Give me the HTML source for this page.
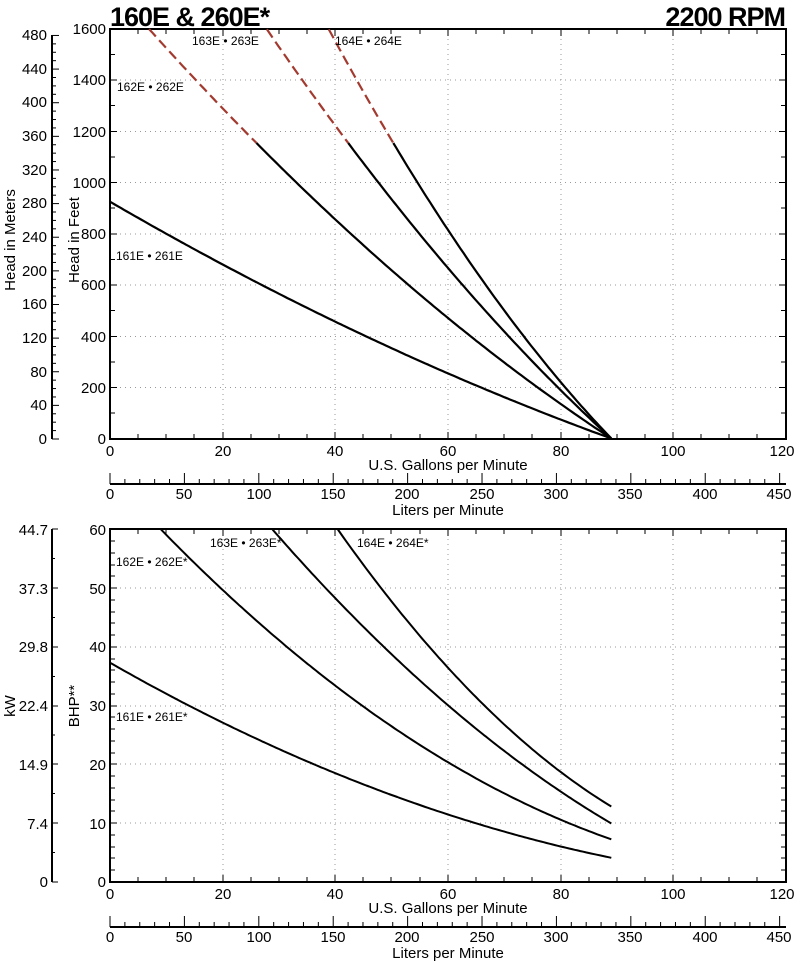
<!DOCTYPE html>
<html><head><meta charset="utf-8"><style>
html,body{margin:0;padding:0;background:#fff}
svg{display:block;font-family:"Liberation Sans",Arial,sans-serif}
</style></head><body>
<svg width="800" height="963" viewBox="0 0 800 963" xmlns="http://www.w3.org/2000/svg">
<text x="110" y="26" font-size="27" font-weight="bold" letter-spacing="-1">160E &amp; 260E*</text>
<text x="785" y="26" font-size="27" font-weight="bold" text-anchor="end" letter-spacing="-1">2200 RPM</text>

<g stroke="#999" stroke-width="1" stroke-dasharray="1,4">
<line x1="223" y1="29" x2="223" y2="439"/><line x1="335" y1="29" x2="335" y2="439"/><line x1="448" y1="29" x2="448" y2="439"/><line x1="561" y1="29" x2="561" y2="439"/><line x1="673" y1="29" x2="673" y2="439"/>
<line x1="110" y1="80" x2="786" y2="80"/><line x1="110" y1="131.5" x2="786" y2="131.5"/><line x1="110" y1="182.5" x2="786" y2="182.5"/><line x1="110" y1="234" x2="786" y2="234"/><line x1="110" y1="285" x2="786" y2="285"/><line x1="110" y1="336.5" x2="786" y2="336.5"/><line x1="110" y1="387.5" x2="786" y2="387.5"/>
</g>
<rect x="110" y="29" width="676" height="410" fill="none" stroke="#000" stroke-width="2"/>
<g stroke="#000" stroke-width="1">
<path d="M138 439v-5M166 439v-5M194 439v-5M251 439v-5M279 439v-5M307 439v-5M363 439v-5M391 439v-5M420 439v-5M476 439v-5M504 439v-5M532 439v-5M589 439v-5M617 439v-5M645 439v-5M701 439v-5M729 439v-5M757 439v-5M223 439v-7M335 439v-7M448 439v-7M561 439v-7M673 439v-7"/>
<path d="M138 29v5M166 29v5M194 29v5M251 29v5M279 29v5M307 29v5M363 29v5M391 29v5M420 29v5M476 29v5M504 29v5M532 29v5M589 29v5M617 29v5M645 29v5M701 29v5M729 29v5M757 29v5M223 29v7M335 29v7M448 29v7M561 29v7M673 29v7"/>
<path d="M110 54.5h5M110 105.5h5M110 157h5M110 208h5M110 259.5h5M110 310.5h5M110 362h5M110 413h5M110 80h7M110 131.5h7M110 182.5h7M110 234h7M110 285h7M110 336.5h7M110 387.5h7"/>
<path d="M786 54.5h-5M786 105.5h-5M786 157h-5M786 208h-5M786 259.5h-5M786 310.5h-5M786 362h-5M786 413h-5M786 80h-7M786 131.5h-7M786 182.5h-7M786 234h-7M786 285h-7M786 336.5h-7M786 387.5h-7"/>
</g>
<g font-size="15" text-anchor="end">
<text x="106" y="34">1600</text><text x="106" y="85">1400</text><text x="106" y="137">1200</text><text x="106" y="188">1000</text><text x="106" y="239">800</text><text x="106" y="290">600</text><text x="106" y="342">400</text><text x="106" y="393">200</text><text x="106" y="444">0</text>
</g>
<g font-size="15" text-anchor="middle">
<text x="110" y="456">0</text><text x="223" y="456">20</text><text x="335" y="456">40</text><text x="448" y="456">60</text><text x="561" y="456">80</text><text x="673" y="456">100</text><text x="782" y="456">120</text>
</g>
<text x="448" y="470" font-size="15" text-anchor="middle">U.S. Gallons per Minute</text>

<line x1="52" y1="35" x2="52" y2="439" stroke="#000" stroke-width="2"/>
<g font-size="15" text-anchor="end">
<text x="47" y="40">480</text><text x="47" y="74">440</text><text x="47" y="107">400</text><text x="47" y="141">360</text><text x="47" y="175">320</text><text x="47" y="208">280</text><text x="47" y="242">240</text><text x="47" y="276">200</text><text x="47" y="309">160</text><text x="47" y="343">120</text><text x="47" y="377">80</text><text x="47" y="410">40</text><text x="47" y="444">0</text>
</g>
<text transform="translate(15,240) rotate(-90)" font-size="15" text-anchor="middle">Head in Meters</text>
<text transform="translate(79,240) rotate(-90)" font-size="15" text-anchor="middle">Head in Feet</text>

<line x1="110" y1="484" x2="786" y2="484" stroke="#000" stroke-width="2"/>
<g font-size="15" text-anchor="middle">
<text x="110" y="499">0</text><text x="184" y="499">50</text><text x="259" y="499">100</text><text x="333" y="499">150</text><text x="407" y="499">200</text><text x="482" y="499">250</text><text x="556" y="499">300</text><text x="630" y="499">350</text><text x="705" y="499">400</text><text x="779" y="499">450</text>
</g>
<text x="448" y="515" font-size="15" text-anchor="middle">Liters per Minute</text>

<g id="top" fill="none" stroke-width="2.2" stroke-linejoin="round"></g>
<g font-size="12">
<text x="192" y="45">163E • 263E</text>
<text x="335" y="45">164E • 264E</text>
<text x="117" y="91">162E • 262E</text>
<text x="116" y="260">161E • 261E</text>
</g>

<g stroke="#999" stroke-width="1" stroke-dasharray="1,4">
<line x1="223" y1="529" x2="223" y2="882"/><line x1="335" y1="529" x2="335" y2="882"/><line x1="448" y1="529" x2="448" y2="882"/><line x1="561" y1="529" x2="561" y2="882"/><line x1="673" y1="529" x2="673" y2="882"/>
<line x1="110" y1="588" x2="786" y2="588"/><line x1="110" y1="647" x2="786" y2="647"/><line x1="110" y1="706" x2="786" y2="706"/><line x1="110" y1="764" x2="786" y2="764"/><line x1="110" y1="823" x2="786" y2="823"/>
</g>
<rect x="110" y="529" width="676" height="353" fill="none" stroke="#000" stroke-width="2"/>
<g stroke="#000" stroke-width="1">
<path d="M138 882v-5M166 882v-5M194 882v-5M251 882v-5M279 882v-5M307 882v-5M363 882v-5M391 882v-5M420 882v-5M476 882v-5M504 882v-5M532 882v-5M589 882v-5M617 882v-5M645 882v-5M701 882v-5M729 882v-5M757 882v-5M223 882v-7M335 882v-7M448 882v-7M561 882v-7M673 882v-7"/>
<path d="M138 529v5M166 529v5M194 529v5M251 529v5M279 529v5M307 529v5M363 529v5M391 529v5M420 529v5M476 529v5M504 529v5M532 529v5M589 529v5M617 529v5M645 529v5M701 529v5M729 529v5M757 529v5M223 529v7M335 529v7M448 529v7M561 529v7M673 529v7"/>
<path d="M110 541h5M110 553h5M110 565h5M110 576h5M110 600h5M110 612h5M110 623h5M110 635h5M110 659h5M110 670h5M110 682h5M110 694h5M110 717h5M110 729h5M110 741h5M110 753h5M110 776h5M110 788h5M110 800h5M110 811h5M110 835h5M110 847h5M110 858h5M110 870h5M110 588h7M110 647h7M110 706h7M110 764h7M110 823h7"/>
<path d="M786 541h-5M786 553h-5M786 565h-5M786 576h-5M786 600h-5M786 612h-5M786 623h-5M786 635h-5M786 659h-5M786 670h-5M786 682h-5M786 694h-5M786 717h-5M786 729h-5M786 741h-5M786 753h-5M786 776h-5M786 788h-5M786 800h-5M786 811h-5M786 835h-5M786 847h-5M786 858h-5M786 870h-5M786 588h-7M786 647h-7M786 706h-7M786 764h-7M786 823h-7"/>
</g>
<g font-size="15" text-anchor="end">
<text x="106" y="535">60</text><text x="106" y="594">50</text><text x="106" y="652">40</text><text x="106" y="711">30</text><text x="106" y="770">20</text><text x="106" y="829">10</text><text x="106" y="887">0</text>
</g>
<g font-size="15" text-anchor="middle">
<text x="110" y="899">0</text><text x="223" y="899">20</text><text x="335" y="899">40</text><text x="448" y="899">60</text><text x="561" y="899">80</text><text x="673" y="899">100</text><text x="782" y="899">120</text>
</g>
<text x="448" y="913" font-size="15" text-anchor="middle">U.S. Gallons per Minute</text>

<line x1="52" y1="529" x2="52" y2="882" stroke="#000" stroke-width="2"/>
<g stroke="#000" stroke-width="1">
<path d="M52 529h6M52 588h6M52 647h6M52 706h6M52 764h6M52 823h6M52 882h6M52 558.5h3M52 617.5h3M52 676.5h3M52 735h3M52 793.5h3M52 852.5h3"/>
</g>
<g font-size="15" text-anchor="end">
<text x="48" y="535">44.7</text><text x="48" y="594">37.3</text><text x="48" y="652">29.8</text><text x="48" y="711">22.4</text><text x="48" y="770">14.9</text><text x="48" y="829">7.4</text><text x="48" y="887">0</text>
</g>
<text transform="translate(15,706) rotate(-90)" font-size="15" text-anchor="middle">kW</text>
<text transform="translate(79,706) rotate(-90)" font-size="15" text-anchor="middle">BHP**</text>

<line x1="110" y1="927" x2="786" y2="927" stroke="#000" stroke-width="2"/>
<g font-size="15" text-anchor="middle">
<text x="110" y="942">0</text><text x="184" y="942">50</text><text x="259" y="942">100</text><text x="333" y="942">150</text><text x="407" y="942">200</text><text x="482" y="942">250</text><text x="556" y="942">300</text><text x="630" y="942">350</text><text x="705" y="942">400</text><text x="779" y="942">450</text>
</g>
<text x="448" y="958" font-size="15" text-anchor="middle">Liters per Minute</text>

<g id="bot" fill="none" stroke="#000" stroke-width="2" stroke-linejoin="round"></g>
<g font-size="12">
<text x="210" y="547">163E • 263E*</text>
<text x="357" y="547">164E • 264E*</text>
<text x="116" y="566">162E • 262E*</text>
<text x="116" y="721">161E • 261E*</text>
</g>

<script>
(function(){
var ns="http://www.w3.org/2000/svg",s=document.querySelector("svg");
function ln(x1,y1,x2,y2){var l=document.createElementNS(ns,"line");l.setAttribute("x1",x1);l.setAttribute("y1",y1);l.setAttribute("x2",x2);l.setAttribute("y2",y2);l.setAttribute("stroke","#000");l.setAttribute("stroke-width","1");s.appendChild(l);}
for(var m=0;m<=480;m+=10){var y=439-m*3.28084*0.25625;ln(52,y,(m%40==0)?59:56,y);}
for(var L=0;L<=450;L+=10){var x=110+L/3.78541*5.633;var h=(L%50==0)?11:5;ln(x,484,x,484-h);ln(x,927,x,927-h);}
function X(q){return 110+q*5.633;}
function poly(g,pts,stroke,dash){var p=document.createElementNS(ns,"polyline");p.setAttribute("points",pts.map(function(a){return a[0].toFixed(1)+","+a[1].toFixed(1)}).join(" "));p.setAttribute("stroke",stroke);if(dash)p.setAttribute("stroke-dasharray",dash);g.appendChild(p);}
var top=document.getElementById("top");
// [a,b,qStart(solid)]
var T=[[2.0444,0.006924,0],[3.699,0.01573,26],[5.146,0.02527,42.3],[5.866,0.0457,50.3]];
T.forEach(function(c){
 function Y(q){var d=89-q;return 438.5-(c[0]*d+c[1]*d*d);}
 // find q where Y=29
 var q0=0;while(Y(q0)<29&&q0<89)q0+=0.05;
 var sol=[],dsh=[];
 for(var q=Math.max(q0,c[2]);q<=89.001;q+=0.5)sol.push([X(q),Y(q)]);
 sol.push([X(89),438.5]);
 if(c[2]>q0){for(var q=q0;q<=c[2]+0.001;q+=0.5)dsh.push([X(q),Y(q)]);dsh.push([X(c[2]),Y(c[2])]);poly(top,dsh,"#a33a30","10,5");}
 poly(top,sol,"#000");
});
var bot=document.getElementById("bot");
var B=[[37.3,-0.549,0.001979],[69.2,-1.058,0.004068],[95.3,-1.353,0.004427],[128,-2.006,0.008]];
B.forEach(function(c){
 function P(q){return c[0]+c[1]*q+c[2]*q*q;}
 var q0=0;while(P(q0)>60)q0+=0.05;
 var pts=[];for(var q=q0;q<=89.001;q+=0.5)pts.push([X(q),882-5.88*P(q)]);
 pts.push([X(89),882-5.88*P(89)]);
 poly(bot,pts,"#000");
});
})();
</script>
</svg>
</body></html>
